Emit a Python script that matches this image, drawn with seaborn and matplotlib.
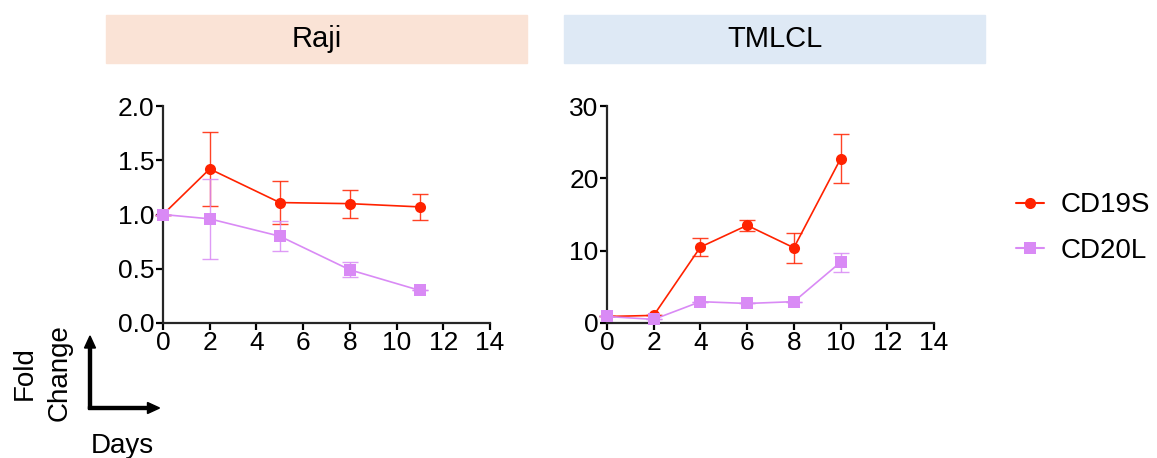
import numpy as np
import pandas as pd
import matplotlib
matplotlib.use("Agg")
import matplotlib.pyplot as plt
from matplotlib.patches import Rectangle, FancyArrow
import seaborn as sns

# --- Daten ---
raji_days = [0, 2, 5, 8, 11]
raji_cd19s = [1.0, 1.42, 1.11, 1.10, 1.07]
raji_cd19s_err = [0.0, 0.34, 0.20, 0.13, 0.12]
raji_cd20l = [1.0, 0.96, 0.80, 0.49, 0.30]
raji_cd20l_err = [0.0, 0.37, 0.14, 0.07, 0.0]

tmlcl_days = [0, 2, 4, 6, 8, 10]
tmlcl_cd19s = [0.9, 1.05, 10.5, 13.5, 10.4, 22.7]
tmlcl_cd19s_err = [0.0, 0.0, 1.2, 0.8, 2.1, 3.4]
tmlcl_cd20l = [0.9, 0.5, 2.95, 2.7, 2.95, 8.4]
tmlcl_cd20l_err = [0.0, 0.0, 0.0, 0.0, 0.0, 1.3]

panels = ["Raji", "TMLCL"]
groups = ["CD19S", "CD20L"]
ylims = [(0, 2.0), (0, 30)]
yticks = [[0.0, 0.5, 1.0, 1.5, 2.0], [0, 10, 20, 30]]
ytick_labels = [["0.0", "0.5", "1.0", "1.5", "2.0"], ["0", "10", "20", "30"]]
xticks = [0, 2, 4, 6, 8, 10, 12, 14]

def make_df(panel, days, a, a_err, b, b_err):
    d1 = pd.DataFrame({"Panel": panel, "Group": "CD19S", "Day": days, "Fold": a, "Err": a_err})
    d2 = pd.DataFrame({"Panel": panel, "Group": "CD20L", "Day": days, "Fold": b, "Err": b_err})
    return pd.concat([d1, d2], ignore_index=True)

df = pd.concat([
    make_df("Raji", raji_days, raji_cd19s, raji_cd19s_err, raji_cd20l, raji_cd20l_err),
    make_df("TMLCL", tmlcl_days, tmlcl_cd19s, tmlcl_cd19s_err, tmlcl_cd20l, tmlcl_cd20l_err),
], ignore_index=True)

# --- Style ---
sns.set_style("ticks")
plt.rcParams['font.family'] = ['Liberation Sans', 'DejaVu Sans']
plt.rcParams['axes.linewidth'] = 1.6
plt.rcParams['text.color'] = 'black'

colors = {"CD19S": "#FF2200", "CD20L": "#D98AF5"}
markers = {"CD19S": "o", "CD20L": "s"}
box_colors = ["#FAE3D6", "#DEE9F5"]

fig = plt.figure(figsize=(11.57, 4.58), dpi=100)
W, H = 1157, 458
ax_pos = [(163, 106, 327, 217), (607, 106, 327, 217)]
box_pos = [(106, 15, 421, 48), (564, 15, 421, 48)]

for i, panel in enumerate(panels):
    x0, y0, w, h = ax_pos[i]
    ax = fig.add_axes([x0 / W, 1 - (y0 + h) / H, w / W, h / H])
    sub = df[df["Panel"] == panel]
    # Fehlerbalken zuerst
    for g in groups:
        s = sub[sub["Group"] == g]
        ax.errorbar(s["Day"], s["Fold"], yerr=s["Err"], fmt="none",
                    ecolor=colors[g], elinewidth=1.0, capsize=6, capthick=1.0,
                    alpha=0.85, clip_on=False, zorder=2)
    sns.lineplot(data=sub, x="Day", y="Fold", hue="Group", style="Group",
                 markers=markers, dashes=False, palette=colors,
                 markersize=8, markeredgewidth=0, linewidth=1.2,
                 ax=ax, legend=False, clip_on=False, zorder=3)
    ax.set_xlim(0, 14)
    ax.set_ylim(*ylims[i])
    ax.set_xticks(xticks)
    ax.set_yticks(yticks[i])
    ax.set_yticklabels(ytick_labels[i])
    ax.tick_params(labelsize=19, width=1.6, length=5, pad=1, colors="black")
    ax.set_xlabel("")
    ax.set_ylabel("")
    sns.despine(ax=ax)

    # Titelkasten
    bx, by, bw, bh = box_pos[i]
    fig.patches.append(Rectangle((bx / W, 1 - (by + bh) / H), bw / W, bh / H,
                                 transform=fig.transFigure, color=box_colors[i], zorder=0))
    fig.text((bx + bw / 2) / W, 1 - (by + bh / 2) / H, panel, fontsize=21,
             ha="center", va="center")

# Legende
handles = [plt.Line2D([], [], color=colors[g], marker=markers[g], markersize=8,
                      markeredgewidth=0, linewidth=1.5, alpha=1.0) for g in groups]
fig.legend(handles, groups, loc="center left", bbox_to_anchor=(1016 / W, 1 - 228 / H),
           frameon=False, fontsize=20, handlelength=1.0, handletextpad=0.6,
           labelspacing=0.7, borderpad=0, borderaxespad=0)

# Achsen-Schema unten links
fig.add_artist(FancyArrow(90 / W, 1 - 409 / H, 0, 73 / H, width=3 / W,
                          head_width=11 / W, head_length=12 / H, length_includes_head=True,
                          color="black", transform=fig.transFigure))
fig.add_artist(FancyArrow(88.5 / W, 1 - 408 / H, 71 / W, 0, width=3 / H,
                          head_width=11 / H, head_length=12 / W, length_includes_head=True,
                          color="black", transform=fig.transFigure))
fig.text(42 / W, 1 - 373 / H, "Fold\nChange", rotation=90, fontsize=20,
         ha="center", va="center", linespacing=1.45)
fig.text(122 / W, 1 - 446 / H, "Days", fontsize=20, ha="center", va="center")

fig.savefig("out.png", dpi=100)
